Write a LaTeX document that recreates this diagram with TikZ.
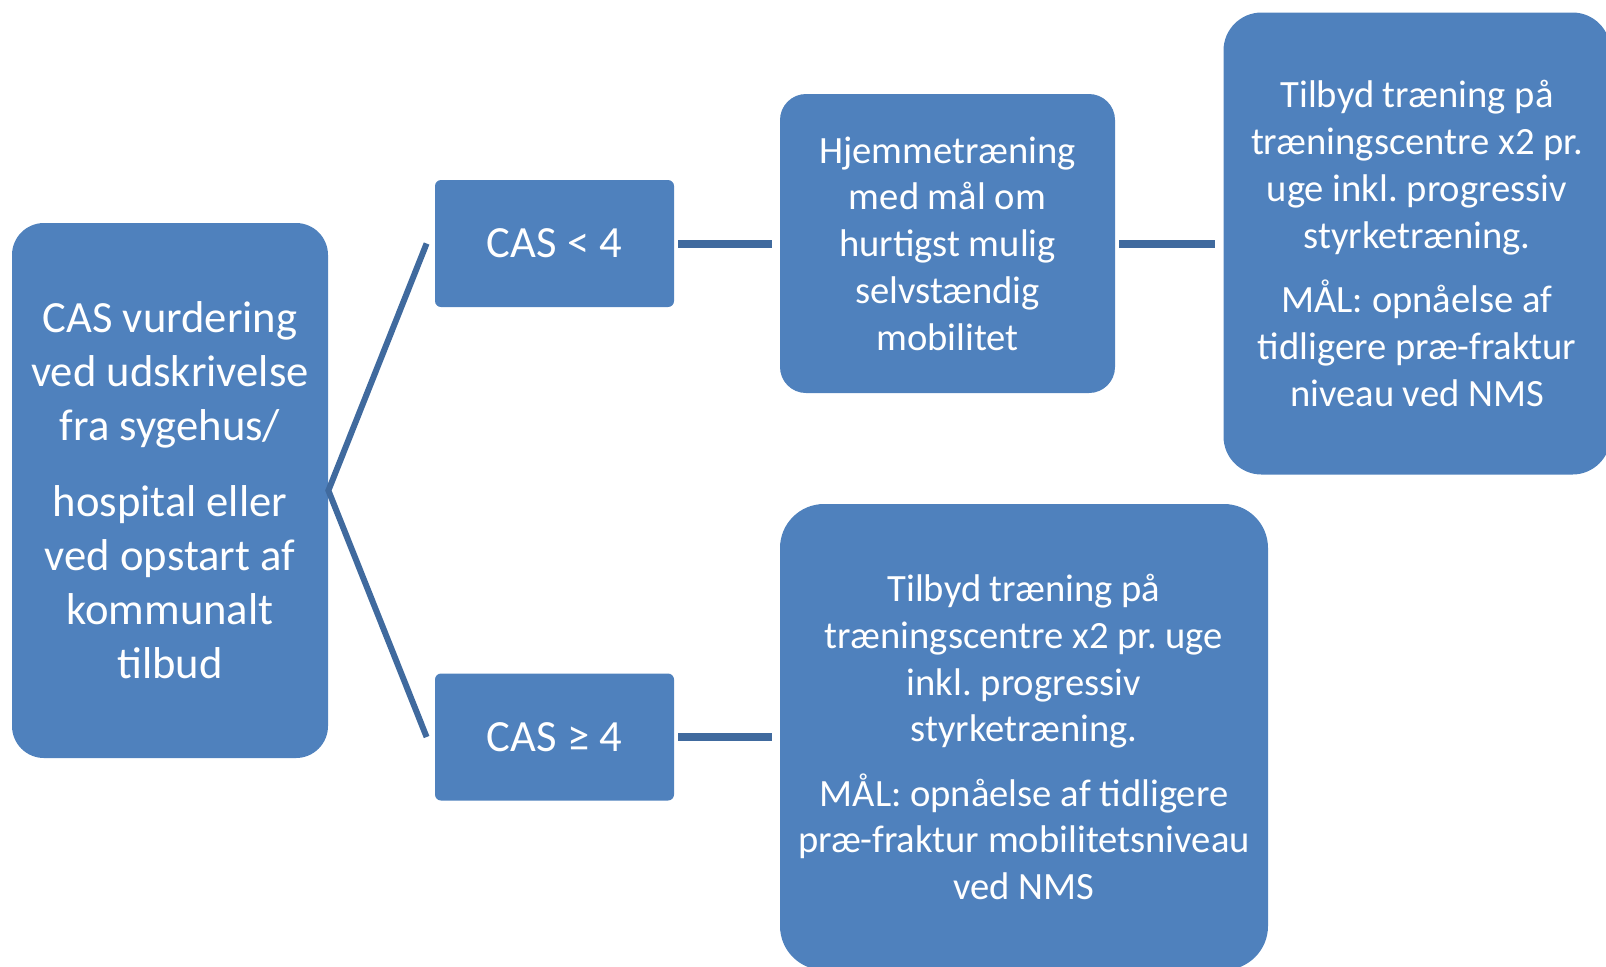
\documentclass[tikz,border=0pt]{standalone}
\usepackage{fontspec}
\setmainfont{Carlito}
\usepackage{tikz}
\frenchspacing

\definecolor{boxblue}{RGB}{79,129,189}
\definecolor{linkblue}{RGB}{64,106,158}

\tikzset{
    box/.style={draw=none, fill=boxblue, text=white, align=center, inner sep=0pt},
    link/.style={draw=linkblue, line width=4pt},
    bigtext/.style={font=\fontsize{22.3pt}{27pt}\selectfont},
    smalltext/.style={font=\fontsize{19.3pt}{23.4pt}\selectfont}
}

\begin{document}
\begin{tikzpicture}[x=0.5pt, y=-0.5pt]
            \useasboundingbox (0,0) rectangle (1606,966);

            \node[box, bigtext, minimum width=158pt, minimum height=267.5pt, rounded corners=16pt] (start) at (170,490.5)
                {CAS vurdering\\ved udskrivelse\\fra sygehus/\\[11pt]hospital eller\\ved opstart af\\kommunalt\\tilbud};
            \node[box, bigtext, minimum width=119.5pt, minimum height=63.5pt, rounded corners=3pt] (low) at (554.5,243.5) {CAS < 4};
            \node[box, bigtext, minimum width=119.5pt, minimum height=63.5pt, rounded corners=3pt] (high) at (554.5,737) {CAS ≥ 4};

            \node[box, smalltext, minimum width=167.5pt, minimum height=149.5pt, rounded corners=13pt] (home) at (947.5,243.5)
                {Hjemmetræning\\med mål om\\hurtigst mulig\\selvstændig\\mobilitet};
            \node[box, smalltext, minimum width=193.5pt, minimum height=231pt, rounded corners=19pt] (centre1) at (1417,243.5)
                {Tilbyd træning på\\træningscentre x2 pr.\\uge inkl. progressiv\\styrketræning.\\[8.7pt]MÅL: opnåelse af\\tidligere præ-fraktur\\niveau ved NMS};
            \node[box, smalltext, minimum width=244pt, minimum height=233pt, rounded corners=22pt] (centre2) at (1024,737)
                {Tilbyd træning på\\træningscentre x2 pr. uge\\inkl. progressiv\\styrketræning.\\[8.7pt]MÅL: opnåelse af tidligere\\præ-fraktur mobilitetsniveau\\ved NMS};

            \draw[link, line width=3pt] ([xshift=-4pt]low.west) -- (start.east) -- ([xshift=-4pt]high.west);
            \draw[link, shorten <=2pt, shorten >=4pt] (low.east) -- (home.west);
            \draw[link, shorten <=2pt, shorten >=4pt] (home.east) -- (centre1.west);
            \draw[link, shorten <=2pt, shorten >=4pt] (high.east) -- (centre2.west);
        \end{tikzpicture}
\end{document}
